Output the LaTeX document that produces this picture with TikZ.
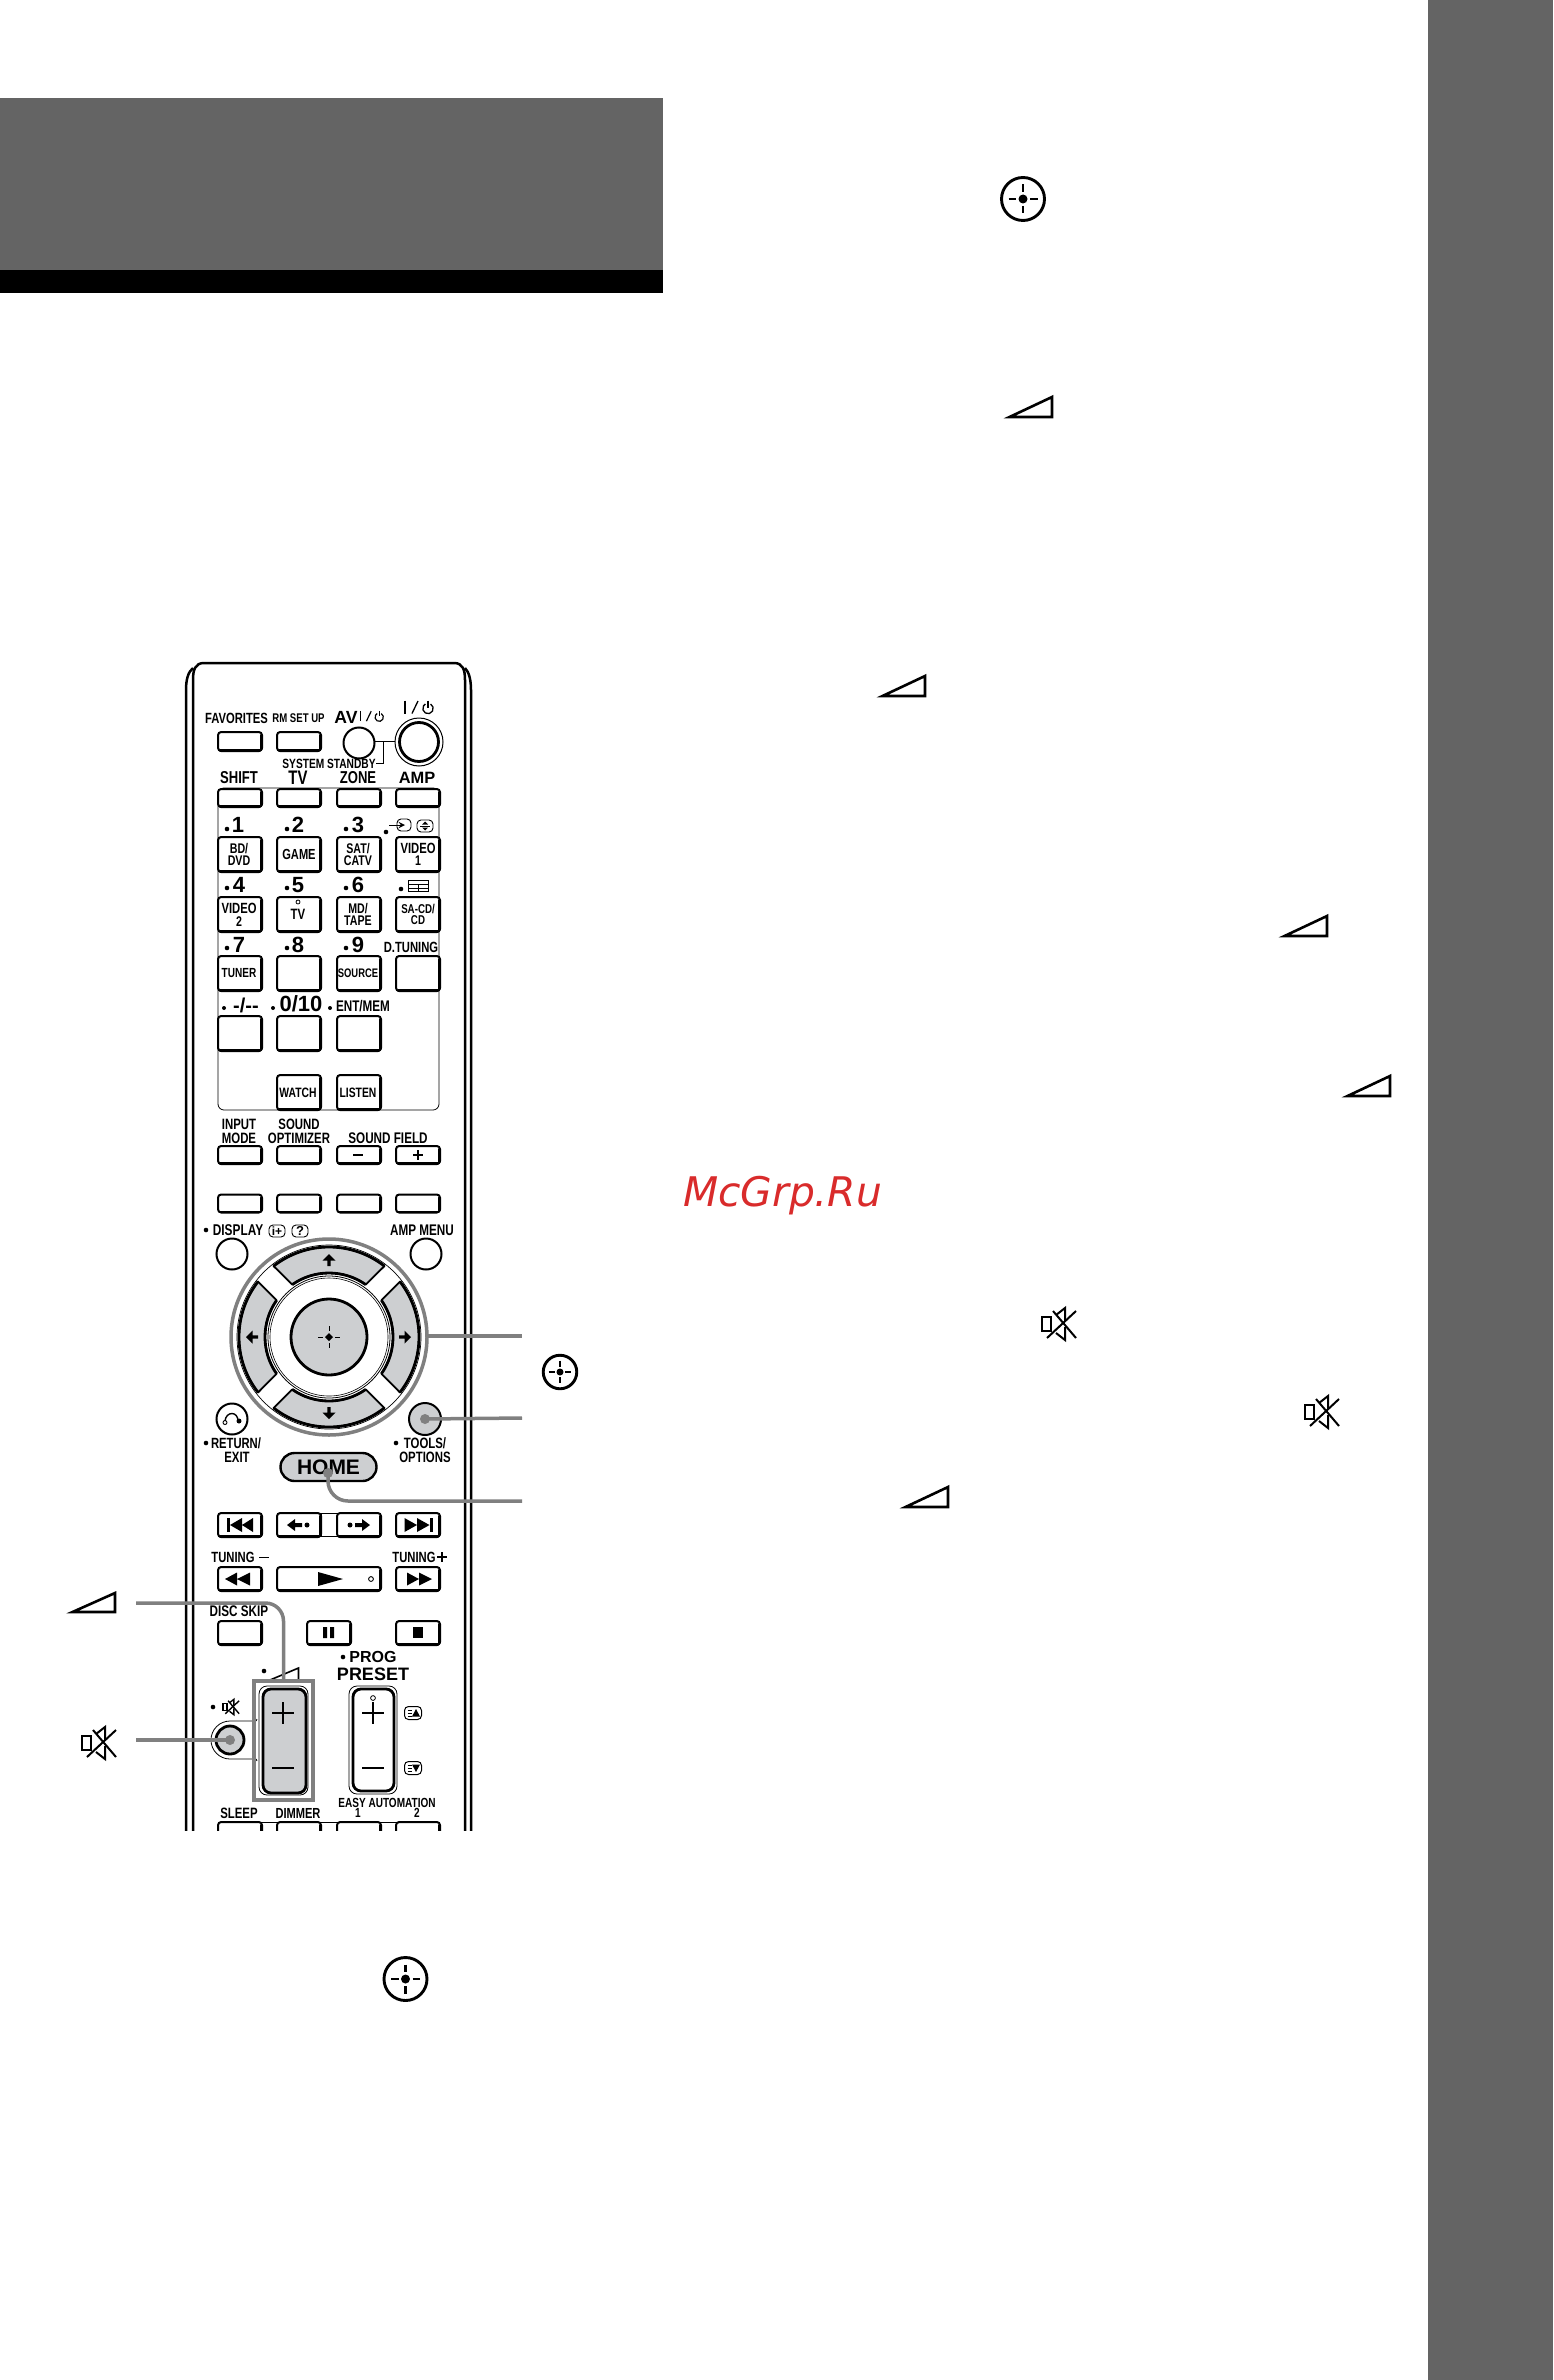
\documentclass[tikz,border=0pt]{standalone}
\usepackage{fontspec}
\setmainfont{Liberation Sans}
\newfontfamily\rf{Liberation Sans}[FakeStretch=0.76]
\newfontfamily\rw{Liberation Sans}
\newfontfamily\wm{DejaVu Sans}
\definecolor{bandgray}{HTML}{646464}
\definecolor{conn}{HTML}{808080}
\definecolor{keygray}{HTML}{CDCFD1}
\definecolor{wmred}{HTML}{D92B2B}
\tikzset{
  txt/.style={inner sep=0,outer sep=0},
  btnst/.style={draw=black,line width=1pt,rounded corners=1.6pt,fill=white,inner sep=0,outer sep=0},
  cbtn/.style={circle,draw=black,line width=1pt,fill=white,inner sep=0,outer sep=0},
  connline/.style={draw=conn,line width=1.75pt},
  thin line/.style={line width=.4pt,black}
}
\newcommand{\lb}[5][\rf]{\node[txt,font={#1\bfseries\fontsize{#4}{#4}\selectfont}] (#2) at (#3) {#5};}
\newcommand{\bt}[5]{\node[btnst,minimum width=#4*.5pt,minimum height=#5*.5pt] (#1) at (#2,#3) {};
  \draw[line width=1.4pt,line cap=round] ([shift={(2,-.5)}]#1.south west) -- ([shift={(-2,-.5)}]#1.south east);
  \draw[line width=1.3pt,line cap=round] ([shift={(-.3,-2)}]#1.south east) -- ([shift={(-.3,3)}]#1.north east);}
\newcommand{\cb}[4]{\node[cbtn,minimum size=#4*.5pt] (#1) at (#2,#3) {};}
\newcommand{\dotb}[3][2.3]{\fill (#2,#3) circle (#1);}
\newcommand{\volsym}[5][1.3pt]{\draw[line width=#1,miter limit=20] (#2+4.5,#5) -- (#3-1,#4+2) -- (#3-1,#5) -- cycle;}
\newcommand{\ctrsym}[4]{\begin{scope}[shift={(#1,#2)},scale=#3]
  \draw[line width=#4] (0,0) circle (21.5);
  \fill (0,0) circle (4.5);
  \draw[line width=#4] (-14.5,0)--(-7,0) (7,0)--(14.5,0) (0,-14.5)--(0,-7) (0,7)--(0,14.5);
\end{scope}}
\newcommand{\mutesym}[4]{\begin{scope}[shift={(#1,#2)},scale=#3]
  \draw[line width=#4] (-17,-7) rectangle (-8,7);
  \draw[line width=#4] (-3,-9)--(6,-16)--(6,-3) (-3,9)--(6,16)--(6,3);
  \draw[line width=#4] (-12,14)--(17,-13) (-6,-13)--(17,14);
\end{scope}}
\newcommand{\powersym}[5]{\begin{scope}[shift={(#1,#2)},scale=#3]
  \draw[line width=#4] (#5-14,-6.5)--(#5-14,6.5);
  \draw[line width=#4] (#5-1,-6)--(#5-7,6.5);
  \draw[line width=#4] (#5+9,1.5)++(300:5.2) arc (300:600:5.2);
  \draw[line width=#4] (#5+9,-6.5)--(#5+9,0.5);
\end{scope}}
\newcommand{\dirarrow}[3]{\begin{scope}[shift={(#1,#2)},rotate=#3]
  \fill (0,-6)--(6.5,0.5)--(1.7,0.5)--(1.7,6)--(-1.7,6)--(-1.7,0.5)--(-6.5,0.5)--cycle;
\end{scope}}
\newcommand{\plusm}[3]{\draw[line width=.8pt] (#1-#3,#2)--(#1+#3,#2) (#1,#2-#3)--(#1,#2+#3);}
\newcommand{\minusm}[3]{\draw[line width=.9pt] (#1-#3,#2)--(#1+#3,#2);}
\begin{document}
\begin{tikzpicture}[x=.5pt,y=-.5pt]
\useasboundingbox (0,0) rectangle (1553,2380);
\fill[white] (0,0) rectangle (1553,2380);
% page furniture
\fill[bandgray] (0,98) rectangle (663,270);
\fill[black] (0,270) rectangle (663,293);
\fill[bandgray] (1428,0) rectangle (1553,2380);
\node[txt,anchor=base west,text=wmred,font={\wm\itshape\fontsize{20.4}{20.4}\selectfont}] (wmark) at (683,1206) {McGrp.Ru};
% text-side symbols
\ctrsym{1023}{199}{1}{1.45pt}
\volsym{1005}{1053}{395}{417}
\volsym{878}{926}{674}{696}
\volsym{1280}{1328}{914}{936}
\volsym{1343}{1391}{1074}{1096}
\volsym{901}{949}{1485}{1507}
\mutesym{1059}{1324}{1}{1pt}
\mutesym{1322}{1412}{1}{1pt}
\ctrsym{405.5}{1979}{1}{1.45pt}
\ctrsym{560}{1372}{.78}{1.45pt}
\volsym{68}{116}{1591}{1612}
\mutesym{99}{1743}{1}{1pt}
% remote outline, cut off at the bottom
\begin{scope}
\clip (0,600) rectangle (1553,1830);
\draw[line width=1.25pt,line join=round] (193,1840) -- (193,680) .. controls (193,670) and (195,663) .. (204,663) -- (454,663) .. controls (463,663) and (465,670) .. (465,680) -- (465,1840);
\draw[line width=1.25pt] (186,1840) -- (186,690) .. controls (186,680) and (188,672) .. (193,668);
\draw[line width=1.25pt] (471,1840) -- (471,690) .. controls (471,680) and (469,672) .. (465,668);
% bottom row
\draw[thin line] (218,1822) -- (440,1822);
\bt{bsleep}{240}{1834}{44}{24}
\bt{bdimmer}{299}{1834}{44}{24}
\bt{bea1}{359}{1834}{44}{24}
\bt{bea2}{418}{1834}{44}{24}
\end{scope}
% top row
\lb{lfav}{236.5,718}{7.4}{FAVORITES}
\lb{lrm}{298.5,718}{6.3}{RM SET UP}
\lb[\rw]{lav}{346,717}{8.8}{AV}
\powersym{372}{716}{.8}{.6pt}{0}
\powersym{419}{707}{1}{.65pt}{0}
\bt{bfav}{240}{741.5}{44}{19}
\bt{brm}{299}{741.5}{44}{19}
\draw[line width=.5pt] (375,741) -- (395,741) (383,741) -- (383,763) -- (376,763);
\cb{bav}{359}{743}{31}
\node[circle,draw=black,line width=.5pt,fill=white,minimum size=24pt,inner sep=0,outer sep=0] (bpwr) at (419,742) {};
\node[circle,draw=black,line width=1.4pt,minimum size=19.5pt,inner sep=0,outer sep=0] (bpwrin) at (419,742) {};
\lb{lstandby}{329,764}{6.7}{SYSTEM STANDBY}
\lb{lshift}{239,778}{8.6}{SHIFT}
\lb{ltv}{298,778}{9.8}{TV}
\lb{lzone}{358,778}{8.6}{ZONE}
\lb[\rw]{lamp}{417,778}{8.2}{AMP}
% keypad panel
\draw[thin line,rounded corners=3pt] (218,788) rectangle (439,1110);
\bt{bshift}{240}{798}{44}{18}
\bt{btv}{299}{798}{44}{18}
\bt{bzone}{359}{798}{44}{18}
\bt{bamp}{418}{798}{44}{18}
% row 1
\lb[\rw]{n1}{238,825}{11}{1} \dotb{227}{829}
\lb[\rw]{n2}{298,825}{11}{2} \dotb{287}{829}
\lb[\rw]{n3}{358,825}{11}{3} \dotb{346}{829}
\dotb{386}{832}
\draw[line width=.45pt,rounded corners=2pt] (397,819) rectangle (411,831);
\draw[line width=.45pt,-stealth] (389,825) -- (405,825);
\draw[line width=.45pt,rounded corners=2pt] (417,820) rectangle (433,832);
\draw[line width=.45pt] (420,826) -- (430,826);
\fill (425,821.5)--(428,824.5)--(422,824.5)--cycle (425,830.5)--(428,827.5)--(422,827.5)--cycle;
\bt{bbd}{240}{854.5}{44}{35}
\bt{bgame}{299}{854.5}{44}{35}
\bt{bsat}{359}{854.5}{44}{35}
\bt{bvid1}{418}{854.5}{44}{35}
\lb{tbd1}{239,848.5}{7}{BD/}
\lb{tbd2}{239,860.5}{7}{DVD}
\lb{tgame}{299,854.5}{7.3}{GAME}
\lb{tsat1}{358,848.5}{7}{SAT/}
\lb{tsat2}{358,860.5}{7}{CATV}
\lb{tv11}{418,848.5}{7.4}{VIDEO}
\lb{tv12}{418,861}{7}{1}
% row 2
\lb[\rw]{n4}{239,885}{11}{4} \dotb{227}{888}
\lb[\rw]{n5}{298,885}{11}{5} \dotb{287}{888}
\lb[\rw]{n6}{358,885}{11}{6} \dotb{346}{888}
\dotb{401}{889}
\draw[line width=.5pt] (408,880.5) rectangle (428,891.5) (408,884.5) -- (428,884.5) (418,884.5) -- (418,891.5) (408,888) -- (428,888);
\bt{bvid2}{240}{914.5}{44}{35}
\bt{btvk}{299}{914.5}{44}{35}
\bt{bmd}{359}{914.5}{44}{35}
\bt{bsacd}{418}{914.5}{44}{35}
\lb{tv21}{239,908.5}{7.4}{VIDEO}
\lb{tv22}{239,921.5}{7}{2}
\draw[line width=.4pt] (298,902) circle (2);
\lb{ttv}{298,914}{7.5}{TV}
\lb{tmd1}{358,908.5}{7}{MD/}
\lb{tmd2}{358,920.5}{7}{TAPE}
\lb{tsa1}{418,908.5}{6.4}{SA-CD/}
\lb{tsa2}{418,920}{6.4}{CD}
% row 3
\lb[\rw]{n7}{239,945}{11}{7} \dotb{227}{948}
\lb[\rw]{n8}{298,945}{11}{8} \dotb{287}{948}
\lb[\rw]{n9}{358,945}{11}{9} \dotb{346}{948}
\lb{ldt}{411,947}{7.4}{D.TUNING}
\bt{btuner}{240}{973.5}{44}{35}
\bt{b8}{299}{973.5}{44}{35}
\bt{bsource}{359}{973.5}{44}{35}
\bt{bdt}{418}{973.5}{44}{35}
\lb{ttuner}{239,973}{6.6}{TUNER}
\lb{tsource}{358,973}{6.2}{SOURCE}
% row 4
\lb[\rw]{ldash}{246,1005}{10}{-/--} \dotb[2]{224}{1008}
\lb[\rw]{l010}{301,1004}{11}{0/10} \dotb[2]{273}{1008}
\lb{lent}{363,1006}{7.7}{ENT/MEM} \dotb[2]{330}{1008}
\bt{bdash}{240}{1033.5}{44}{35}
\bt{b010}{299}{1033.5}{44}{35}
\bt{bent}{359}{1033.5}{44}{35}
% row 5
\bt{bwatch}{299}{1092.5}{44}{35}
\bt{blisten}{359}{1092.5}{44}{35}
\lb{twatch}{298,1093}{6.8}{WATCH}
\lb{tlisten}{358,1093}{6.8}{LISTEN}
% input mode row
\lb{linp1}{239,1124}{7.5}{INPUT}
\lb{linp2}{239,1138}{7.5}{MODE}
\lb{lso1}{299,1124}{7.5}{SOUND}
\lb{lso2}{299,1138}{7.5}{OPTIMIZER}
\lb{lsf}{388,1138}{7.7}{SOUND FIELD}
\bt{binp}{240}{1155}{44}{18}
\bt{bopt}{299}{1155}{44}{18}
\bt{bsfm}{359}{1155}{44}{18}
\bt{bsfp}{418}{1155}{44}{18}
\minusm{358}{1155}{5}
\draw[line width=.8pt] (413,1155)--(423,1155) (418,1150)--(418,1160);
% colour row
\bt{bc1}{240}{1203.5}{44}{18}
\bt{bc2}{299}{1203.5}{44}{18}
\bt{bc3}{359}{1203.5}{44}{18}
\bt{bc4}{418}{1203.5}{44}{18}
% display row
\dotb[2.3]{206}{1230}
\lb{ldisp}{238,1230}{7.8}{DISPLAY}
\draw[line width=.45pt,rounded corners=2pt] (269,1225) rectangle (285,1237);
\lb[\rw]{ldi}{277,1231}{6}{i+}
\draw[line width=.45pt,rounded corners=2pt] (292,1225) rectangle (308,1237);
\lb[\rw]{ldq}{300,1231}{6.5}{?}
\lb{lamenu}{422,1230}{7.7}{AMP MENU}
\cb{bdisp}{232}{1254}{31}
\cb{bamenu}{426}{1254}{31}
% d-pad
\node[circle,draw=conn,line width=1.75pt,fill=white,minimum size=98pt,inner sep=0,outer sep=0] (dpad) at (329,1337) {};
\begin{scope}[shift={(329,1337)}]
\draw[line width=.35pt] (0,0) circle (92);
\foreach \a in {0,90,180,270}{
  \filldraw[fill=keygray,draw=black,line width=.9pt,line join=round] ({232+\a}:90) arc ({232+\a}:{308+\a}:90) -- ({305+\a}:64) arc ({305+\a}:{235+\a}:64) -- cycle;
  \draw[line width=1.4pt] ({232+\a}:90) arc ({232+\a}:{308+\a}:90);
  \draw[line width=1.4pt] ({305+\a}:64) arc ({305+\a}:{235+\a}:64);
}
\draw[line width=.4pt] (0,0) circle (61);
\draw[line width=.3pt] (0,0) circle (59);
\end{scope}
\node[circle,draw=black,line width=1.4pt,fill=keygray,minimum size=38pt,inner sep=0,outer sep=0] (dcenter) at (329,1337) {};
\dirarrow{329}{1260}{0}
\dirarrow{252}{1337}{90}
\dirarrow{329}{1413}{180}
\dirarrow{405}{1337}{270}
\fill (329,1333)--(333,1337)--(329,1341)--(325,1337)--cycle;
\draw[line width=.45pt] (318,1337)--(323,1337) (335,1337)--(340,1337) (329,1326)--(329,1331) (329,1343)--(329,1348);
% return, tools, home
\cb{bret}{232}{1419}{31}
\draw[line width=.7pt] (225,1421) .. controls (226,1411) and (238,1411) .. (238,1421);
\draw[line width=.45pt] (225,1422.5) circle (2);
\dotb[2.5]{239}{1421}
\dotb[2.3]{206}{1443}
\lb{lret1}{236,1443}{7.4}{RETURN/}
\lb{lret2}{237,1457}{7.5}{EXIT}
\node[cbtn,fill=keygray,minimum size=16pt] (btools) at (425,1419) {};
\dotb[2.3]{396}{1443}
\lb{ltool1}{425,1443}{7.5}{TOOLS/}
\lb{ltool2}{425,1457}{7.5}{OPTIONS}
\node[draw=black,line width=1.2pt,fill=keygray,rounded corners=7pt,minimum width=48pt,minimum height=14pt,inner sep=0,outer sep=0] (bhome) at (328.5,1467) {};
\lb[\rw]{thome}{328.5,1467}{10.5}{HOME}
% transport row
\draw[thin line] (321,1513) rectangle (337,1536);
\bt{bprev}{240}{1525}{44}{24}
\bt{bbk}{299}{1525}{44}{24}
\bt{bfw}{359}{1525}{44}{24}
\bt{bnext}{418}{1525}{44}{24}
\fill (227,1518) rectangle (229.5,1532);
\fill (230,1525)--(242,1518)--(242,1532)--cycle (242,1525)--(253,1518)--(253,1532)--cycle;
\fill (430,1518) rectangle (432.5,1532);
\fill (429.5,1525)--(417,1518)--(417,1532)--cycle (417,1525)--(404.5,1518)--(404.5,1532)--cycle;
\fill (287,1525)--(295,1519)--(295,1523)--(302,1523)--(302,1527)--(295,1527)--(295,1531)--cycle;
\dotb[2.5]{307}{1525}
\fill (370,1525)--(362,1519)--(362,1523)--(355,1523)--(355,1527)--(362,1527)--(362,1531)--cycle;
\dotb[2.5]{350}{1525}
% tuning row
\lb{ltun1}{233,1557}{7.4}{TUNING}
\draw[line width=.45pt] (259,1557)--(269,1557);
\lb{ltun2}{414,1557}{7.4}{TUNING}
\draw[line width=.6pt] (437,1557)--(447,1557) (442,1552)--(442,1562);
\bt{brew}{240}{1579}{44}{24}
\bt{bplay}{329}{1579}{104}{24}
\bt{bffw}{418}{1579}{44}{24}
\fill (225,1579)--(237,1572.5)--(237,1585.5)--cycle (237,1579)--(250,1572.5)--(250,1585.5)--cycle;
\fill (432,1579)--(419,1572.5)--(419,1585.5)--cycle (419,1579)--(407,1572.5)--(407,1585.5)--cycle;
\fill (343,1579)--(318,1572)--(318,1586)--cycle;
\draw[line width=.45pt] (371,1579) circle (2.4);
% disc skip row
\lb{ldisc}{239,1611}{7.7}{DISC SKIP}
\bt{bdisc}{240}{1633}{44}{24}
\bt{bpause}{329}{1633}{44}{24}
\bt{bstop}{418}{1633}{44}{24}
\fill (323,1627) rectangle (327,1638) (330,1627) rectangle (334,1638);
\fill (413,1627) rectangle (423,1638);
% volume, mute, preset
\dotb[2.3]{343}{1657}
\lb[\rw]{lprog}{373,1657}{8}{PROG}
\lb[\rw]{lpreset}{373,1674}{9}{PRESET}
\dotb[2.3]{264}{1671}
\draw[line width=.8pt,miter limit=20] (270,1680) -- (298.5,1668) -- (298.5,1680) -- cycle;
\dotb[2.3]{213}{1707}
\mutesym{231}{1707}{.48}{.7pt}
\draw[thin line] (257,1719) .. controls (257,1721) and (256,1721) .. (254,1721) -- (230,1721) arc (270:90:19) -- (254,1759) .. controls (256,1759) and (257,1759) .. (257,1761);
\node[cbtn,fill=keygray,line width=1.4pt,minimum size=14pt] (bmute) at (230,1740) {};
\node[draw=conn,line width=1.75pt,minimum width=29.5pt,minimum height=59.5pt,inner sep=0,outer sep=0] (volbox) at (283.5,1740.5) {};
\node[draw=black,line width=.4pt,rounded corners=4pt,minimum width=24.5pt,minimum height=54.5pt,inner sep=0,outer sep=0] (volouter) at (283.5,1740.5) {};
\node[draw=black,line width=1.4pt,fill=keygray,rounded corners=4pt,minimum width=21.5pt,minimum height=52pt,inner sep=0,outer sep=0] (volkey) at (284.5,1741) {};
\plusm{283}{1713}{11}
\minusm{283}{1768}{11}
\node[draw=black,line width=.4pt,rounded corners=4pt,minimum width=24pt,minimum height=54pt,inner sep=0,outer sep=0] (presetouter) at (373,1740) {};
\node[draw=black,line width=1.4pt,fill=white,rounded corners=4pt,minimum width=20.5pt,minimum height=51pt,inner sep=0,outer sep=0] (presetkey) at (373.5,1740) {};
\plusm{373}{1713}{11}
\minusm{373}{1768}{11}
\draw[line width=.4pt,fill=white] (373,1698) circle (2.4);
\foreach \yy/\ss in {1713/1,1768/-1}{
  \draw[line width=.5pt,rounded corners=2pt] (404.5,\yy-6.5) rectangle (421.5,\yy+6.5);
  \draw[line width=.4pt] (407.5,\yy-3)--(411.5,\yy-3) (407.5,\yy)--(411.5,\yy) (407.5,\yy+3)--(411.5,\yy+3);
  \fill (416,\yy-4*\ss)--(420,\yy+3.5*\ss)--(412,\yy+3.5*\ss)--cycle;
}
% bottom row labels
\lb{lsleep}{239,1813}{7.5}{SLEEP}
\lb{ldimmer}{298,1813}{7.3}{DIMMER}
\lb{lea}{387,1803}{6.6}{EASY AUTOMATION}
\lb{lea1}{358,1813}{6.6}{1}
\lb{lea2}{417,1813}{6.6}{2}
% connectors
\coordinate (endA) at (522,1336);
\coordinate (endB) at (522,1418);
\coordinate (endC) at (522,1501);
\coordinate (endD) at (136,1603);
\coordinate (endE) at (136,1740);
\coordinate (homedot) at (328,1473);
\draw[connline] (dpad.east |- endA) -- (endA);
\draw[connline] (btools.center) -- (endB);
\fill[conn] (btools.center) circle (5);
\draw[connline,rounded corners=10pt] (homedot) |- (endC);
\fill[conn] (homedot) circle (5);
\draw[connline,rounded corners=9pt] (endD) -| (volbox.north);
\draw[connline] (endE) -- (bmute.center);
\fill[conn] (bmute.center) circle (5);
\end{tikzpicture}
\end{document}
